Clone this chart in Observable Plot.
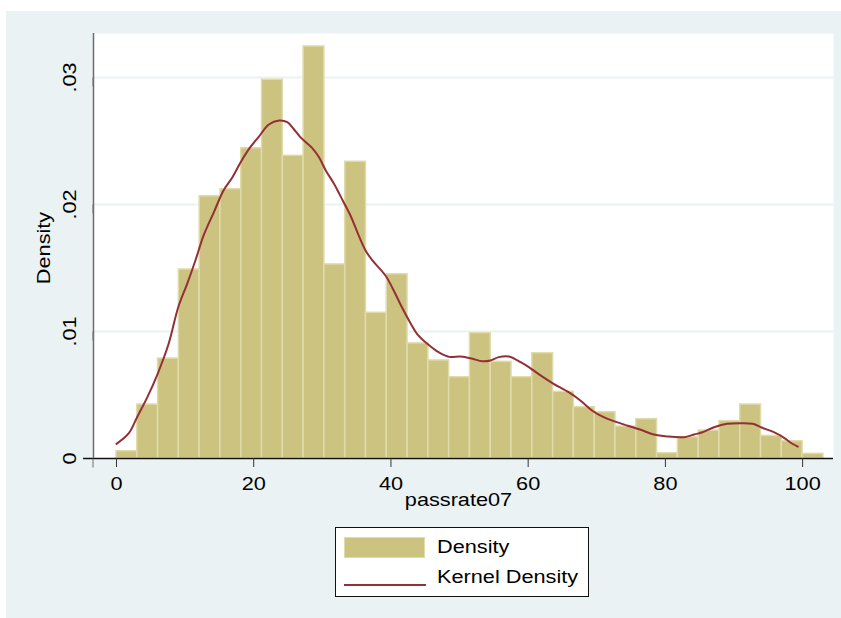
<!DOCTYPE html>
<html>
<head>
<meta charset="utf-8">
<script src="https://cdn.jsdelivr.net/npm/d3@7"></script>
<script src="https://cdn.jsdelivr.net/npm/@observablehq/plot@0.6"></script>
<style>
  html, body { margin: 0; padding: 0; background: #ffffff; }
  #page { position: relative; width: 841px; height: 618px; overflow: hidden; font-family: "Liberation Sans", Arial, Helvetica, sans-serif; }
  #panel { position: absolute; left: 6px; top: 11px; right: 0; bottom: 0; background: #eaf2f3; }
  #chart { position: absolute; left: 0; top: 0; }
  #legend { position: absolute; left: 335px; top: 527px; width: 252px; height: 68px; border: 1px solid #111; background: #ffffff; }
  .lg-swatch { position: absolute; left: 8px; top: 9px; width: 79px; height: 19px; background: #cbc37f; border: 1.5px solid #e0dbab; }
  .lg-line { position: absolute; left: 8px; top: 56px; width: 82px; height: 2px; background: #943035; }
  .lg-text { position: absolute; left: 101px; font-size: 17.5px; line-height: 20px; height: 20px; color: #000; white-space: nowrap;
             transform: scaleX(1.24); transform-origin: 0 50%; }
</style>
</head>
<body>
<div id="page">
  <div id="panel"></div>
  <div id="chart"></div>
  <div id="legend">
    <div class="lg-swatch"></div><div class="lg-text" style="top:9px">Density</div>
    <div class="lg-line"></div><div class="lg-text" style="top:39px">Kernel Density</div>
  </div>
</div>
<script>
// Histogram of passrate07: 34 bins of width 100/33 starting at 0
const binStart = 0;
const binWidth = 100 / 33;
const binDensity = [
  0.00057, 0.00425, 0.00787, 0.01488, 0.02065, 0.02120, 0.02443, 0.02982,
  0.02383, 0.03244, 0.01528, 0.02336, 0.01147, 0.01451, 0.00906, 0.00772,
  0.00640, 0.00987, 0.00761, 0.00640, 0.00829, 0.00525, 0.00404, 0.00365,
  0.00252, 0.00310, 0.00042, 0.00168, 0.00220, 0.00294, 0.00425, 0.00178,
  0.00136, 0.00037
];

// Kernel density estimate
const kdeX = [
  0, 1.8, 3.0, 4.5, 6.0, 7.6, 9.0, 10.3, 11.5, 12.7, 14.2, 15.6, 16.9, 18.1,
  19.5, 20.7, 22.2, 23.7, 24.9, 25.8, 26.8, 28.5, 29.5, 30.5, 31.7, 33.1, 34.1,
  35.3, 36.3, 37.3, 39.2, 40.4, 41.6, 42.9, 43.8, 45.3, 47.0, 48.5, 50.2, 51.9,
  53.3, 54.5, 55.7, 57.2, 58.9, 60.1, 61.8, 63.7, 65.9, 67.6, 69.3, 71.0, 72.5,
  74.4, 76.4, 78.3, 80.3, 82.7, 84.2, 85.4, 87.1, 89.0, 91.0, 92.7, 94.1, 95.8,
  97.3, 98.5, 99.3
];
const kdeY = [
  0.00115, 0.00199, 0.00325, 0.00483, 0.00667, 0.00903, 0.01191, 0.01375, 0.01559,
  0.01756, 0.01940, 0.02110, 0.02215, 0.02333, 0.02451, 0.02530, 0.02630, 0.02661,
  0.02648, 0.02596, 0.02530, 0.02446, 0.02373, 0.02268, 0.02163, 0.02018, 0.01913,
  0.01756, 0.01638, 0.01559, 0.01441, 0.01323, 0.01191, 0.01061, 0.00982, 0.00903,
  0.00835, 0.00800, 0.00803, 0.00785, 0.00766, 0.00772, 0.00798, 0.00803, 0.00758,
  0.00719, 0.00654, 0.00588, 0.00522, 0.00457, 0.00378, 0.00325, 0.00294, 0.00260,
  0.00226, 0.00189, 0.00173, 0.00168, 0.00189, 0.00207, 0.00246, 0.00273, 0.00278,
  0.00273, 0.00242, 0.00207, 0.00163, 0.00116, 0.00094
];

const xTicks = [0, 20, 40, 60, 80, 100];
const yTicks = [0, 0.01, 0.02, 0.03];
const xTitle = "passrate07";
const yTitle = "Density";

const bins = binDensity.map((d, i) => ({
  x1: binStart + i * binWidth,
  x2: binStart + (i + 1) * binWidth,
  density: d
}));
const kde = kdeX.map((x, i) => ({ x, y: kdeY[i] }));

const xDomain = [-3.35, 104.5];
const yDomain = [0, 0.03346];
const fontFamily = '"Liberation Sans", Arial, Helvetica, sans-serif';
const textStretch = 1.24;

const fmtY = d => d === 0 ? "0" : d3.format(".2f")(d).replace(/^0/, "");

const chart = Plot.plot({
  width: 841,
  height: 520,
  marginLeft: 93,
  marginRight: 8,
  marginTop: 33,
  marginBottom: 62,
  style: { background: "transparent", fontFamily, overflow: "visible" },
  x: { domain: xDomain },
  y: { domain: yDomain },
  marks: [
    Plot.frame({ fill: "#ffffff", stroke: null }),
    Plot.gridY(yTicks.filter(d => d > 0), { stroke: "#eaf2f3", strokeOpacity: 1, strokeWidth: 2 }),
    Plot.rectY(bins, {
      x1: "x1", x2: "x2", y: "density",
      fill: "#cbc37f", stroke: "#e0dbab", strokeWidth: 1.5, inset: 0
    }),
    Plot.line(kde, { x: "x", y: "y", stroke: "#943035", strokeWidth: 2, curve: "catmull-rom" }),
    Plot.ruleY([0], { x1: xDomain[0] - 1.45, x2: xDomain[1], stroke: "#111", strokeWidth: 1.5, clip: false }),
    Plot.ruleX([xDomain[0]], { y1: yDomain[0], y2: yDomain[1], stroke: "#6e6e6e", strokeWidth: 1.5 }),
    Plot.axisX(xTicks, {
      tickSize: 9, tickPadding: 10, fontSize: 17.5, stroke: "#333", fill: "#000",
      label: null
    }),
    Plot.axisY(yTicks, {
      tickSize: 9, tickPadding: 14, fontSize: 17.5, rotate: -90, textAnchor: "middle",
      tickFormat: fmtY, stroke: "#6e6e6e", fill: "#000", label: null
    }),
    Plot.text([xTitle], { frameAnchor: "bottom", dx: -5, dy: 47, fontSize: 17.5, fill: "#000" }),
    Plot.text([yTitle], { frameAnchor: "left", textAnchor: "middle", rotate: -90, dx: -49, dy: 2, fontSize: 17.5, fill: "#000" })
  ]
});

// widen glyphs along their reading direction to match the reference's wide lettering
chart.querySelectorAll("text").forEach(t => {
  const tr = t.getAttribute("transform");
  if (tr) {
    t.setAttribute("transform", `${tr} scale(${textStretch},1)`);
  } else {
    const x = +(t.getAttribute("x") || 0), y = +(t.getAttribute("y") || 0);
    t.removeAttribute("x"); t.removeAttribute("y");
    t.setAttribute("transform", `translate(${x},${y}) scale(${textStretch},1)`);
  }
});
document.getElementById("chart").appendChild(chart);
</script>
</body>
</html>
